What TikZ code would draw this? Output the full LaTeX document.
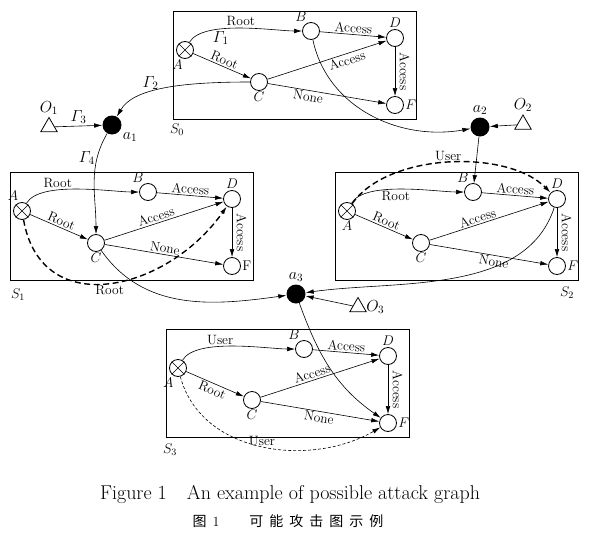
\RequirePackage{fix-cm}
\documentclass[tikz,border=0pt]{standalone}
\usepackage{fontspec}
\newfontfamily\cjk{Noto Sans CJK SC}
\usetikzlibrary{arrows.meta}
\usetikzlibrary{shapes.geometric}
\tikzset{
 state/.style={circle, draw, line width=.8pt, minimum size=17pt, inner sep=0pt},
 hub/.style={circle, fill=black, minimum size=19pt, inner sep=0pt},
 origin/.style={regular polygon, regular polygon sides=3, draw, line width=.8pt, minimum size=19pt, inner sep=0pt},
 letter/.style={font=\fontsize{14}{16}\selectfont, inner sep=1.2pt},
 big/.style={font=\fontsize{16}{18}\selectfont, inner sep=2pt},
 lbl/.style={inner sep=1.5pt},
 thickdash/.style={line width=1.4pt, dash pattern=on 6pt off 3.5pt},
 thindash/.style={dash pattern=on 3pt off 2pt},
}
\begin{document}
\begin{tikzpicture}[x=1pt, y=1pt, line width=.6pt, >={Latex[length=8pt,width=4.6pt]}, font=\fontsize{13.5}{15}\selectfont]
\useasboundingbox (0,0) rectangle (589,-546);
\foreach \i/\ax/\ay/\la/\f/\pac/\pcd/\qcd/\pcf/\qcf in {0/185/-50/-95/$F$/above/below/.65/below/.35, 1/22/-211/105/F/above/above/.45/above/.5, 2/347/-211/-90/$F$/above/above/.42/below/.55, 3/178/-368/-110/$F$/below/above/.45/below/.5} {
 \draw (\ax-12,\ay+39) rectangle ++(243,-108);
 \node[state, label={[letter]\la:$A$}] (A\i) at (\ax,\ay) {};
 \draw (A\i.45) -- (A\i.225) (A\i.135) -- (A\i.315);
 \node[state, label={[letter]110:$B$}] (B\i) at (\ax+126,\ay+19) {};
 \node[state, label={[letter]below:$C$}] (C\i) at (\ax+74,\ay-32) {};
 \node[state, label={[letter]above:$D$}] (D\i) at (\ax+210,\ay+12) {};
 \node[state, label={[letter]right:\f}] (F\i) at (\ax+210,\ay-55) {};
 \draw[->] (A\i) -- node[lbl, sloped, \pac] {Root} (C\i);
 \draw[->] (B\i) -- node[lbl, sloped, above] {Access} (D\i);
 \draw[->] (C\i) -- node[lbl, sloped, \pcd, pos=\qcd] {Access} (D\i);
 \draw[->] (C\i) -- node[lbl, sloped, \pcf, pos=\qcf] {None} (F\i);
 \draw[->] (D\i) -- node[rotate=-90, anchor=south, inner sep=4.5pt] {Access} (F\i);
}
\node[letter] (S0) at (177,-130) {$S_0$};
\node[letter] (S1) at (18,-295) {$S_1$};
\node[letter] (S2) at (567,-293) {$S_2$};
\node[letter] (S3) at (170,-450) {$S_3$};
\draw[->] (A0) to[out=60, in=180, looseness=.6] node[lbl, above] {Root} node[big, below, pos=.35] {$\mathnormal{\Gamma}_1$} (B0);
\draw[->] (A1) to[out=60, in=180, looseness=.6] node[lbl, above, pos=.35] {Root} (B1);
\draw[->] (A2) to[out=60, in=180, looseness=.6] node[lbl, below, pos=.45] {Root} (B2);
\draw[->] (A3) to[out=60, in=180, looseness=.6] node[lbl, above, pos=.4] {User} (B3);

\node[hub, label={[big]-30:$a_1$}] (a1) at (112,-125) {};
\node[hub, label={[big]above:$a_2$}] (a2) at (480,-127) {};
\node[hub, label={[big]above:$a_3$}] (a3) at (296,-294) {};
\node[origin, label={[big]above:$O_1$}] (O1) at (49,-127) {};
\node[origin, label={[big]above:$O_2$}] (O2) at (523,-124.5) {};
\node[origin, label={[big]right:$O_3$}] (O3) at (358,-307) {};

\draw[->] (C0) to[out=180, in=60, out looseness=1.3, in looseness=.6] node[big, above, pos=.6] {$\mathnormal{\Gamma}_2$} (a1);
\draw[->] (O1) -- node[big, above] {$\mathnormal{\Gamma}_3$} (a1);
\draw[->] (a1) to[out=-120, in=90] node[big, left, pos=.25] {$\mathnormal{\Gamma}_4$} (C1);
\draw[->] (B0) to[out=-78, in=190] (a2);
\draw[->] (O2) -- (a2);
\draw[->] (a2) -- (B2);
\draw[->, thickdash] (A2) to[out=55, in=135, looseness=.8] node[lbl, above] {User} (D2);
\draw[->, thickdash] (A1) to[out=-80, in=-125, looseness=1.3] node[lbl, below] {Root} (D1);
\draw[->] (C1) to[out=-55, in=188] (a3);
\draw[->] (D2) to[out=-108, in=8, looseness=.9] (a3);
\draw[->] (O3) -- (a3);
\draw[->] (a3) to[out=-70, in=145] (F3);
\draw[->, thindash] (A3) to[out=-75, in=-150] node[lbl, above=-1pt] {User} (F3);

\node (cap) at (290,-494) {\fontsize{20}{22}\selectfont Figure 1\quad An example of possible attack graph};
\node (capzh) at (288,-521) {\fontsize{14}{16}\selectfont{\cjk 图}\kern6pt 1\kern30pt{\cjk 可\kern6pt 能\kern6pt 攻\kern6pt 击\kern6pt 图\kern6pt 示\kern6pt 例}};
\end{tikzpicture}
\end{document}
